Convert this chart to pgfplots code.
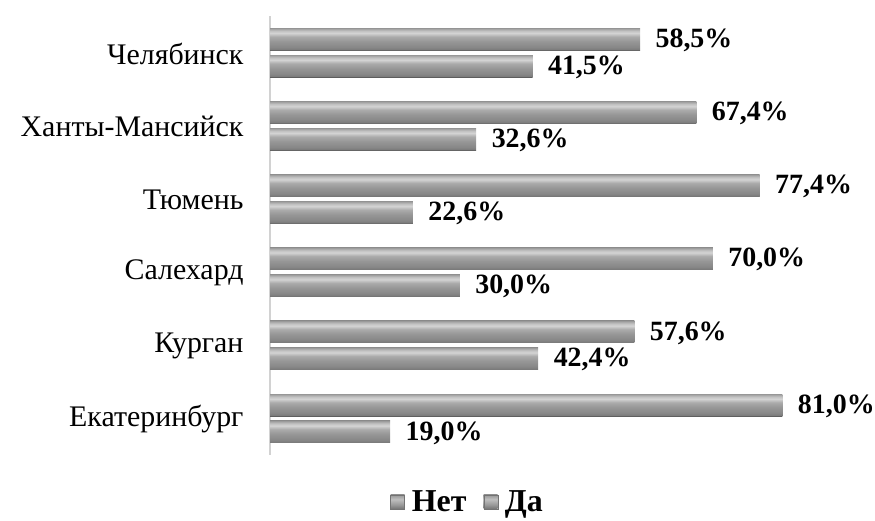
\documentclass[border=0pt]{standalone}
\usepackage{fontspec}
\setmainfont{Liberation Serif}
\usepackage{pgfplots}
\pgfplotsset{compat=1.18}
\pgfdeclareverticalshading{barshade}{100bp}{%
  color(0bp)=(black!65);
  color(25bp)=(black!65);
  color(26.5bp)=(black!52);
  color(32bp)=(black!47);
  color(45bp)=(black!41);
  color(56bp)=(black!33);
  color(64bp)=(black!17);
  color(69bp)=(black!24);
  color(73bp)=(black!34);
  color(75bp)=(black!40);
  color(100bp)=(black!40)}
\pgfdeclareverticalshading{legshade}{100bp}{%
  color(0bp)=(black!55);
  color(25bp)=(black!55);
  color(40bp)=(black!40);
  color(60bp)=(black!25);
  color(75bp)=(black!40);
  color(100bp)=(black!40)}
\pgfplotsset{
  lbl/.style={nodes near coords={\pgfmathprintnumber[fixed,fixed zerofill,precision=1,use comma,assume math mode=true]{\pgfplotspointmeta}\%},
    nodes near coords style={font=\rmfamily\bfseries\fontsize{28}{30}\selectfont, anchor=west, xshift=12bp, yshift=-1bp, text=black}},
  net/.style={forget plot, draw=none, fill=black!40, shade, shading=barshade, bar width=22bp, bar shift=13.3bp, lbl},
  da/.style={forget plot, draw=none, fill=black!40, shade, shading=barshade, bar width=22bp, bar shift=-13.5bp, lbl},
  legimg/.style={legend image code/.code={
    \path[shade, shading=legshade, draw=black!55, line width=0.4pt] (0bp,-7bp) rectangle (14bp,7bp);}},
}
\begin{document}
\begin{tikzpicture}[x=1bp,y=1bp]
\useasboundingbox (0,0) rectangle (875,521);
\begin{axis}[
  at={(270bp,66bp)}, anchor=south west,
  scale only axis, width=601bp, height=439bp,
  xbar, xmin=0, xmax=95,
  ymin=-0.5, ymax=5.5,
  xtick={0,20,40,60,80}, xticklabels={},
  xmajorgrids, grid style={draw=gray!25, line width=0.8pt},
  major tick length=0pt,
  ytick={0,1,2,3,4,5},
  yticklabels={Екатеринбург,Курган,Салехард,Тюмень,Ханты-Мансийск,Челябинск},
  yticklabel style={font=\rmfamily\fontsize{30}{32}\selectfont, xshift=-23bp, yshift=-1bp},
  axis x line=none,
  axis y line*=left,
  y axis line style={draw=gray!35, line width=1.2pt, -},
  point meta=x,
  legend style={at={(0.328,0)}, anchor=center, yshift=-47bp, draw=none, fill=none, legend columns=2,
    inner sep=0pt, nodes={inner sep=1bp},
    font=\rmfamily\bfseries\fontsize{32}{34}\selectfont,
    /tikz/every odd column/.append style={column sep=6bp},
    /tikz/every even column/.append style={column sep=16bp}},
  clip=false,
]
% Нет
\addplot[net] coordinates {(81.0,0)};
\addplot[net] coordinates {(57.6,1)};
\addplot[net] coordinates {(70.0,2)};
\addplot[net] coordinates {(77.4,3)};
\addplot[net] coordinates {(67.4,4)};
\addplot[net] coordinates {(58.5,5)};
% Да
\addplot[da] coordinates {(19.0,0)};
\addplot[da] coordinates {(42.4,1)};
\addplot[da] coordinates {(30.0,2)};
\addplot[da] coordinates {(22.6,3)};
\addplot[da] coordinates {(32.6,4)};
\addplot[da] coordinates {(41.5,5)};
\addlegendimage{legimg}
\addlegendentry{Нет}
\addlegendimage{legimg}
\addlegendentry{Да}
\end{axis}
\end{tikzpicture}
\end{document}
